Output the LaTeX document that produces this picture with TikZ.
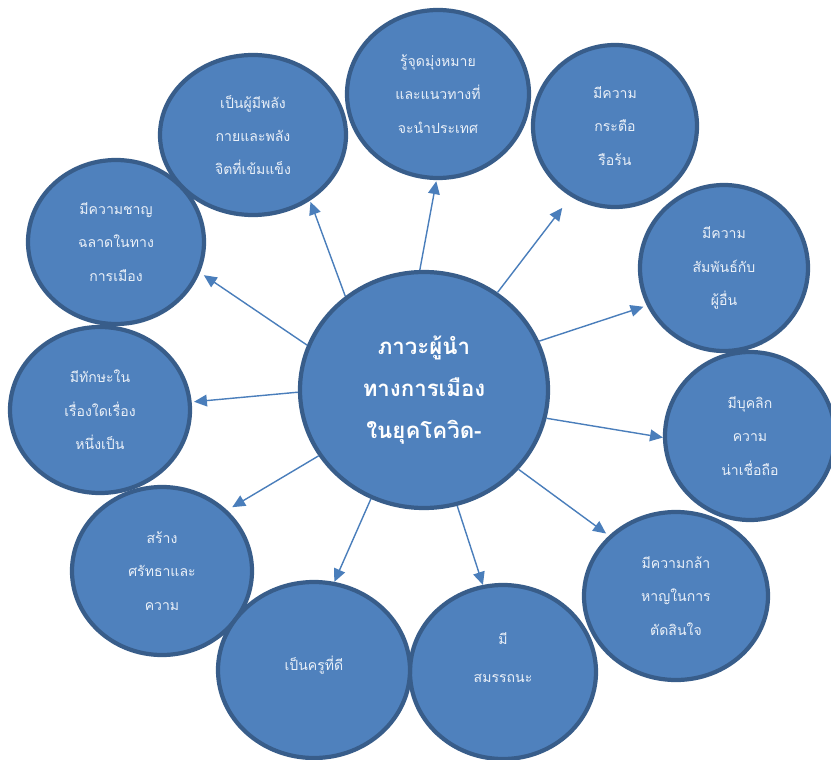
\documentclass[tikz,border=0pt]{standalone}
\usepackage{fontspec}
\newfontfamily\thaifont[Script=Thai]{Loma}
\usepackage{xcolor}
\usetikzlibrary{arrows.meta, shapes.geometric}
\definecolor{bubblefill}{HTML}{4F81BD}
\definecolor{bubbleedge}{HTML}{385D8A}
\definecolor{bubbletext}{HTML}{EAF0F8}
\definecolor{linkblue}{HTML}{4A7EBB}

\begin{document}
\begin{tikzpicture}[
  x=0.03cm, y=-0.03cm,
  every node/.style={font=\thaifont},
  bsize/.style 2 args={minimum width=#1*0.03cm, minimum height=#2*0.03cm},
  bubble/.style={
    ellipse, draw=bubbleedge, fill=bubblefill,
    line width=3.6pt, inner sep=0pt, align=center,
    text=bubbletext, font=\thaifont\fontsize{12}{28.5}\selectfont
  },
  hub/.style={bubble, text=white, font=\thaifont\bfseries\fontsize{19}{36}\selectfont},
  link/.style={draw=linkblue, line width=1.2pt, -{Triangle[length=11pt,width=10pt]}},
]
\useasboundingbox (0,0) rectangle (831,760);

% Centre
\node[hub, bsize={248}{236}] (lead) at (424,390) {ภาวะผู้นำ\\ทางการเมือง\\ในยุคโควิด-};

% Surrounding bubbles
\node[bubble, bsize={176}{164}] (smart) at (116,242) {มีความชาญ\\ฉลาดในทาง\\การเมือง};
\node[bubble, bsize={186}{160}] (power) at (253,135) {เป็นผู้มีพลัง\\กายและพลัง\\จิตที่เข้มแข็ง};
\node[bubble, bsize={182}{168}] (goal) at (438,94) {รู้จุดมุ่งหมาย\\และแนวทางที่\\จะนำประเทศ};
\node[bubble, bsize={164}{162}] (eager) at (615,126) {มีความ\\กระตือ\\รือร้น};
\node[bubble, bsize={168}{166}] (relate) at (724,268) {มีความ\\สัมพันธ์กับ\\ผู้อื่น};
\node[bubble, bsize={170}{168}] (trust) at (750,436) {มีบุคลิก\\ความ\\น่าเชื่อถือ};
\node[bubble, bsize={184}{168}] (brave) at (676,596) {มีความกล้า\\หาญในการ\\ตัดสินใจ};
\node[bubble, bsize={186}{174}] (able) at (503,672) {มี\\[4pt]สมรรถนะ\\[-4pt]\mbox{}};
\node[bubble, bsize={180}{166}] (skill) at (100,410) {มีทักษะใน\\เรื่องใดเรื่อง\\หนึ่งเป็น};
\node[bubble, bsize={180}{168}] (faith) at (162,571) {สร้าง\\ศรัทธาและ\\ความ};
\node[bubble, bsize={192}{176}, text depth=12pt] (teach) at (314,670) {เป็นครูที่ดี};

% Links
\foreach \a/\n/\b/\g in {130/power/-49/1, 92/goal/-91/1, 53/eager/-122/12,
    23/relate/-154/3, -13/trust/181/0, -40/brave/138/3, -74/able/103/0,
    -116/teach/77/0, 212/faith/43/5, 181/skill/5/2, 159/smart/-20/4}
  \draw[link, shorten >=\g pt] (lead.\a) -- (\n.\b);

\end{tikzpicture}
\end{document}
